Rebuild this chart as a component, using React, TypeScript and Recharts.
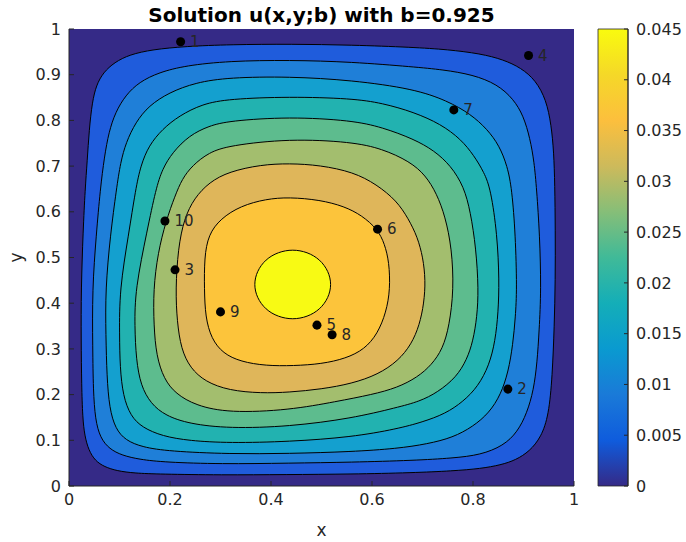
import {
  ScatterChart,
  Scatter,
  XAxis,
  YAxis,
  CartesianGrid,
  Label,
  LabelList,
  BarChart,
  Bar,
} from "recharts";

type Pt = [number, number];

const xTicks = [0, 0.2, 0.4, 0.6, 0.8, 1];
const yTicks = [0, 0.1, 0.2, 0.3, 0.4, 0.5, 0.6, 0.7, 0.8, 0.9, 1];
const cbTicks = [0, 0.005, 0.01, 0.015, 0.02, 0.025, 0.03, 0.035, 0.04, 0.045];
const cbMax = 0.045;

// contour lines, outermost first, going round anticlockwise
const c1: Pt[] = [
  [0.024, 0.43], [0.024, 0.32], [0.025, 0.22], [0.027, 0.15], [0.031, 0.11], [0.039, 0.078],
  [0.052, 0.055], [0.07, 0.042], [0.095, 0.033], [0.13, 0.028], [0.18, 0.026], [0.3, 0.024],
  [0.43, 0.025], [0.56, 0.026], [0.68, 0.029], [0.76, 0.033], [0.815, 0.038], [0.855, 0.046],
  [0.885, 0.057], [0.912, 0.076], [0.935, 0.107], [0.95, 0.155], [0.957, 0.24], [0.961, 0.35],
  [0.963, 0.45], [0.963, 0.56], [0.962, 0.66], [0.96, 0.73], [0.955, 0.79], [0.945, 0.845],
  [0.924, 0.888], [0.895, 0.915], [0.86, 0.933], [0.815, 0.946], [0.75, 0.955], [0.68, 0.96],
  [0.56, 0.965], [0.44, 0.967], [0.32, 0.966], [0.23, 0.962], [0.165, 0.955], [0.12, 0.944],
  [0.09, 0.927], [0.068, 0.905], [0.054, 0.877], [0.046, 0.84], [0.04, 0.78], [0.036, 0.71],
  [0.032, 0.65], [0.028, 0.56],
];
const c2: Pt[] = [
  [0.046, 0.43], [0.047, 0.3], [0.048, 0.21], [0.052, 0.145], [0.062, 0.105], [0.08, 0.081],
  [0.105, 0.067], [0.14, 0.058], [0.19, 0.052], [0.3, 0.048], [0.436, 0.05], [0.56, 0.052],
  [0.683, 0.056], [0.76, 0.061], [0.815, 0.068], [0.86, 0.088], [0.888, 0.118], [0.907, 0.16],
  [0.92, 0.21], [0.927, 0.27], [0.931, 0.34], [0.935, 0.43], [0.932, 0.55], [0.926, 0.65],
  [0.921, 0.71], [0.913, 0.76], [0.9, 0.81], [0.88, 0.847], [0.848, 0.879], [0.8, 0.9],
  [0.74, 0.911], [0.683, 0.917], [0.56, 0.928], [0.436, 0.932], [0.317, 0.93], [0.231, 0.92],
  [0.178, 0.905], [0.139, 0.884], [0.112, 0.855], [0.092, 0.818], [0.079, 0.775], [0.07, 0.72],
  [0.062, 0.65], [0.054, 0.55],
];
const c3: Pt[] = [
  [0.072, 0.43], [0.073, 0.33], [0.075, 0.24], [0.08, 0.17], [0.092, 0.125], [0.112, 0.1],
  [0.145, 0.085], [0.198, 0.076], [0.317, 0.07], [0.436, 0.071], [0.56, 0.075], [0.65, 0.082],
  [0.71, 0.092], [0.76, 0.106], [0.8, 0.13], [0.832, 0.16], [0.855, 0.2], [0.87, 0.25],
  [0.879, 0.31], [0.884, 0.37], [0.887, 0.43], [0.884, 0.55], [0.877, 0.65], [0.868, 0.7],
  [0.852, 0.745], [0.828, 0.781], [0.795, 0.814], [0.749, 0.843], [0.683, 0.869], [0.56, 0.888],
  [0.436, 0.896], [0.317, 0.894], [0.251, 0.883], [0.198, 0.861], [0.158, 0.832], [0.132, 0.796],
  [0.113, 0.752], [0.102, 0.708], [0.094, 0.65], [0.082, 0.55],
];
const c4: Pt[] = [
  [0.1, 0.43], [0.1, 0.33], [0.101, 0.26], [0.107, 0.197], [0.122, 0.153], [0.145, 0.128],
  [0.185, 0.109], [0.238, 0.099], [0.317, 0.094], [0.436, 0.097], [0.56, 0.107], [0.65, 0.125],
  [0.7, 0.14], [0.745, 0.158], [0.781, 0.185], [0.81, 0.218], [0.832, 0.264], [0.844, 0.317],
  [0.85, 0.38], [0.852, 0.45], [0.848, 0.55], [0.835, 0.65], [0.822, 0.686], [0.802, 0.723],
  [0.776, 0.759], [0.736, 0.792], [0.683, 0.818], [0.62, 0.838], [0.56, 0.848], [0.436, 0.852],
  [0.317, 0.847], [0.264, 0.836], [0.218, 0.81], [0.185, 0.781], [0.158, 0.745], [0.142, 0.701],
  [0.132, 0.65], [0.118, 0.55],
];
const c5: Pt[] = [
  [0.131, 0.43], [0.13, 0.35], [0.133, 0.277], [0.142, 0.22], [0.162, 0.18], [0.191, 0.154],
  [0.238, 0.136], [0.317, 0.126], [0.436, 0.13], [0.56, 0.148], [0.65, 0.172], [0.694, 0.185],
  [0.73, 0.205], [0.767, 0.238], [0.788, 0.277], [0.8, 0.317], [0.808, 0.37], [0.811, 0.43],
  [0.806, 0.52], [0.795, 0.6], [0.782, 0.655], [0.756, 0.701], [0.723, 0.734], [0.683, 0.759],
  [0.62, 0.785], [0.56, 0.8], [0.436, 0.808], [0.317, 0.799], [0.277, 0.788], [0.238, 0.767],
  [0.205, 0.73], [0.185, 0.694], [0.172, 0.65], [0.155, 0.56],
];
const c6: Pt[] = [
  [0.167, 0.43], [0.168, 0.35], [0.173, 0.285], [0.188, 0.234], [0.211, 0.202], [0.251, 0.176],
  [0.317, 0.16], [0.436, 0.166], [0.53, 0.185], [0.6, 0.2], [0.65, 0.215], [0.69, 0.238],
  [0.718, 0.265], [0.74, 0.3], [0.753, 0.35], [0.762, 0.43], [0.758, 0.52], [0.745, 0.59],
  [0.728, 0.64], [0.706, 0.68], [0.675, 0.71], [0.62, 0.738], [0.56, 0.753], [0.436, 0.76],
  [0.317, 0.745], [0.277, 0.73], [0.244, 0.701], [0.224, 0.672], [0.21, 0.635], [0.192, 0.58],
  [0.176, 0.51],
];
const c7: Pt[] = [
  [0.211, 0.43], [0.214, 0.36], [0.222, 0.3], [0.24, 0.258], [0.27, 0.228], [0.317, 0.209],
  [0.38, 0.203], [0.436, 0.205], [0.5, 0.212], [0.56, 0.224], [0.612, 0.244], [0.652, 0.274],
  [0.678, 0.31], [0.694, 0.352], [0.703, 0.4], [0.706, 0.45], [0.701, 0.5], [0.69, 0.545],
  [0.672, 0.585], [0.649, 0.624], [0.609, 0.66], [0.563, 0.687], [0.497, 0.702], [0.436, 0.706],
  [0.38, 0.703], [0.317, 0.688], [0.278, 0.665], [0.248, 0.63], [0.228, 0.585], [0.216, 0.52],
];
const c8: Pt[] = [
  [0.268, 0.43], [0.27, 0.37], [0.282, 0.322], [0.305, 0.29], [0.34, 0.272], [0.39, 0.263],
  [0.444, 0.263], [0.5, 0.267], [0.548, 0.279], [0.585, 0.299], [0.611, 0.333], [0.628, 0.38],
  [0.636, 0.43], [0.634, 0.49], [0.625, 0.53], [0.611, 0.562], [0.58, 0.592], [0.545, 0.612],
  [0.497, 0.626], [0.436, 0.632], [0.39, 0.628], [0.34, 0.613], [0.3, 0.585], [0.276, 0.55],
  [0.268, 0.5],
];
const c9: Pt[] = [
  [0.52, 0.441], [0.514, 0.47], [0.497, 0.496], [0.472, 0.512], [0.443, 0.518], [0.414, 0.512],
  [0.389, 0.496], [0.372, 0.47], [0.366, 0.441], [0.372, 0.412], [0.389, 0.386], [0.414, 0.37],
  [0.443, 0.364], [0.472, 0.37], [0.497, 0.386], [0.514, 0.412],
];

const contours = [c1, c2, c3, c4, c5, c6, c7, c8, c9];
const bandColors = [
  "#1f5cdc", "#1f7fd8", "#14a0cf", "#22b2b0", "#5dbc8e", "#a3be6e", "#dfb65a", "#fcc43b", "#f8fa14",
];
const navy = "#352a87";

// marked sample points
const pointX = [0.221, 0.869, 0.21, 0.91, 0.491, 0.611, 0.762, 0.521, 0.3, 0.19];
const pointY = [0.972, 0.212, 0.473, 0.942, 0.352, 0.562, 0.823, 0.331, 0.381, 0.58];
const pointName = ["1", "2", "3", "4", "5", "6", "7", "8", "9", "10"];

const parula: [string, string][] = [
  ["0%", "#352a87"],
  ["10%", "#0f5cdd"],
  ["20%", "#1a7ad8"],
  ["30%", "#0a9ad0"],
  ["40%", "#14aeb8"],
  ["50%", "#40ba98"],
  ["60%", "#86be78"],
  ["70%", "#cdba5b"],
  ["80%", "#fcbf3d"],
  ["90%", "#f5d828"],
  ["100%", "#f9fb0e"],
];

const axisColor = "#262626";
const tickStyle = { fill: axisColor, fontSize: 16 };

export default function App() {
  const points = pointX.map((x, i) => ({ x, y: pointY[i], label: pointName[i] }));

  return (
    <div
      style={{
        position: "absolute",
        left: 0,
        top: 0,
        width: 686,
        height: 542,
        background: "#fff",
        fontFamily: "'DejaVu Sans', sans-serif",
      }}
    >
      <div
        style={{
          position: "absolute",
          left: 69,
          top: 5,
          width: 505,
          textAlign: "center",
          fontSize: 20,
          lineHeight: "20px",
          fontWeight: "bold",
          color: "#000",
        }}
      >
        Solution u(x,y;b) with b=0.925
      </div>

      <div style={{ position: "absolute", left: 0, top: 0 }}>
        <ScatterChart width={686} height={542} margin={{ top: 29, right: 112, bottom: 0, left: 0 }}>
          <CartesianGrid horizontal={false} vertical={false} fill={navy} fillOpacity={1} stroke="none" />
          <XAxis
            dataKey="x"
            type="number"
            domain={[0, 1]}
            ticks={xTicks}
            interval={0}
            height={56}
            tickSize={-5}
            tickMargin={13}
            stroke={axisColor}
            tick={tickStyle}
          >
            <Label value="x" position="insideBottom" offset={6} fill={axisColor} fontSize={17} />
          </XAxis>
          <XAxis
            xAxisId="top"
            orientation="top"
            type="number"
            domain={[0, 1]}
            ticks={xTicks}
            interval={0}
            height={0}
            tick={false}
            tickSize={-5}
            stroke={axisColor}
          />
          <YAxis
            dataKey="y"
            type="number"
            domain={[0, 1]}
            ticks={yTicks}
            interval={0}
            width={69}
            tickSize={-5}
            tickMargin={13}
            stroke={axisColor}
            tick={tickStyle}
          >
            <Label value="y" angle={-90} position="insideLeft" offset={16} dy={5} fill={axisColor} fontSize={17} />
          </YAxis>
          <YAxis
            yAxisId="right"
            orientation="right"
            type="number"
            domain={[0, 1]}
            ticks={yTicks}
            interval={0}
            width={0}
            tick={false}
            tickSize={-5}
            stroke={axisColor}
          />
          {contours.map((pts, i) => (
            <Scatter
              key={i}
              data={pts.map(([x, y]) => ({ x, y }))}
              isAnimationActive={false}
              line={{ fill: bandColors[i], stroke: "#000", strokeWidth: 1 }}
              lineJointType="basisClosed"
              shape={() => <g />}
            />
          ))}
          <Scatter data={points} fill="#000" isAnimationActive={false}>
            <LabelList dataKey="label" position="right" offset={5} fill={axisColor} fontSize={15} />
          </Scatter>
        </ScatterChart>
      </div>

      <div style={{ position: "absolute", left: 560, top: 0 }}>
        <BarChart
          width={126}
          height={542}
          data={[{ name: "u", v: cbMax }]}
          margin={{ top: 29, right: 0, bottom: 56, left: 38 }}
          barCategoryGap={0}
        >
          <defs>
            <linearGradient id="parula" x1="0" y1="1" x2="0" y2="0">
              {parula.map(([off, col]) => (
                <stop key={off} offset={off} stopColor={col} />
              ))}
            </linearGradient>
          </defs>
          <XAxis dataKey="name" hide />
          <YAxis
            orientation="right"
            type="number"
            domain={[0, cbMax]}
            ticks={cbTicks}
            interval={0}
            width={58}
            tickSize={-4}
            tickMargin={12}
            stroke={axisColor}
            tick={tickStyle}
          />
          <Bar dataKey="v" fill="url(#parula)" stroke={axisColor} strokeWidth={0.8} isAnimationActive={false} />
        </BarChart>
      </div>
    </div>
  );
}
